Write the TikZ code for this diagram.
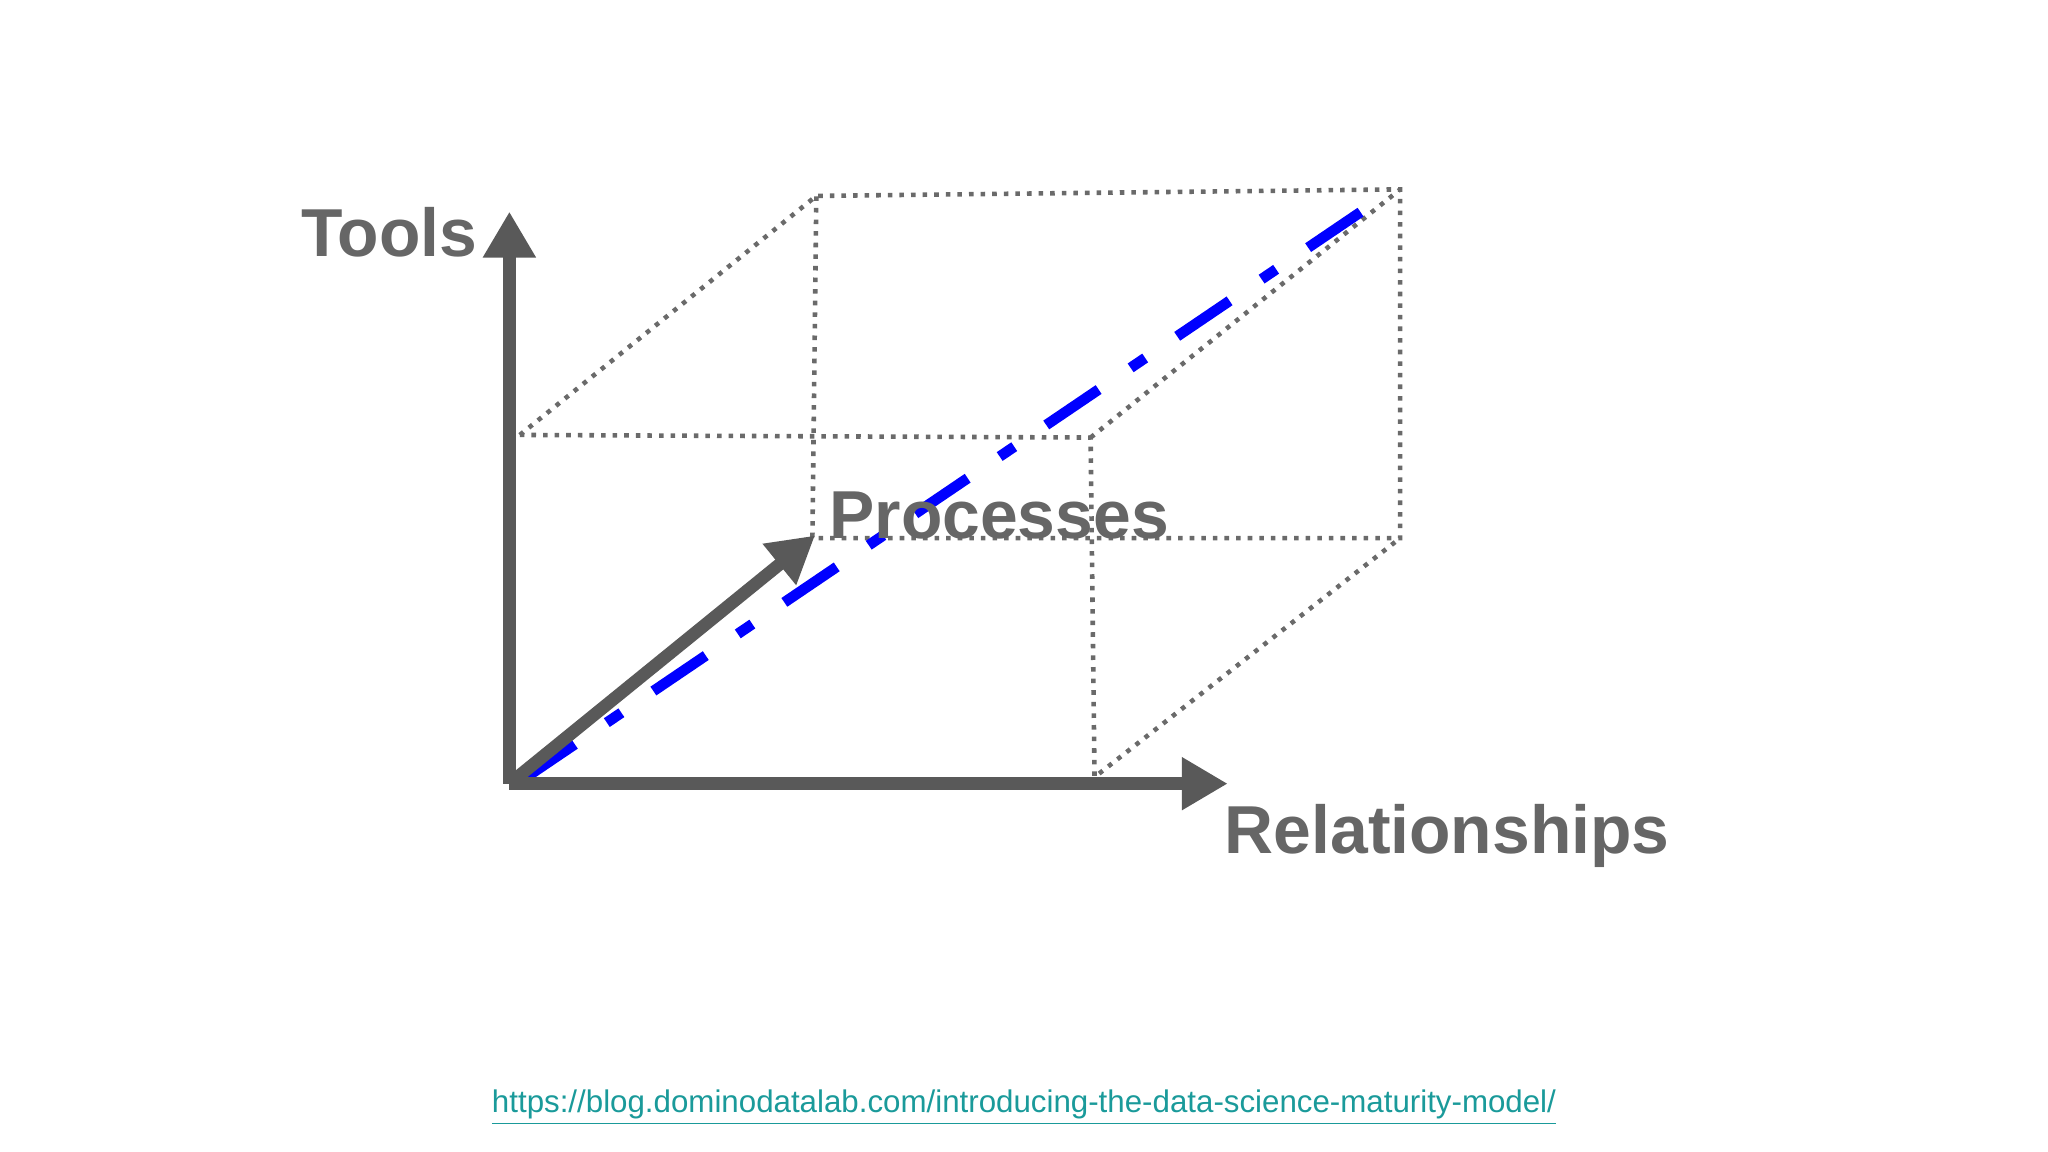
\documentclass[tikz,border=0pt]{standalone}
\usepackage{fontspec}
\setmainfont{Liberation Sans}
\usetikzlibrary{arrows.meta}
\definecolor{axg}{HTML}{595959}
\definecolor{txg}{HTML}{666666}
\definecolor{lnk}{HTML}{1A9A9A}
\begin{document}
\begin{tikzpicture}[x=0.01306cm,y=-0.01306cm,
  axis/.style={line width=3.6pt,color=axg,-{Triangle[length=0.46cm,width=0.5cm]}},
  dots/.style={dotted,line width=1.3pt,color=axg!90},
  lbl/.style={font=\fontsize{19.3}{23}\selectfont\bfseries,text=txg,inner sep=0pt}]
\useasboundingbox (0,0) rectangle (1568,882);
\coordinate (O) at (390,600);
\coordinate (ft) at (398,333);
\coordinate (ftr) at (835,335);
\coordinate (fbr) at (838,595);
\coordinate (btl) at (625,150);
\coordinate (btr) at (1072,145);
\coordinate (bbr) at (1072,412);
\coordinate (bbl) at (622,412);
\draw[dots] (ft) -- (btl) -- (btr) -- (bbr) -- (bbl) -- (btl);
\draw[dots] (ft) -- (ftr) -- (fbr) -- (bbr);
\draw[dots] (ftr) -- (btr);
\coordinate (tt) at (390,162);
\coordinate (rt) at (940,600);
\coordinate (pt) at (624,410);
\draw[line width=3pt,color=blue,dash pattern=on 18pt off 11pt on 5pt off 11pt] (400,597) -- (1060,150);
\draw[axis] (O) -- (tt);
\draw[axis] (O) -- (rt);
\draw[axis] (O) -- (pt);
\node[lbl] (tools) at (298,178) {Tools};
\node[lbl] (proc) at (765,395) {Processes};
\node[lbl] (rel) at (1108,640) {Relationships};
\node[inner sep=0pt,text=lnk,font=\fontsize{8.9}{11}\selectfont] (url) at (784,848) {\underline{https://blog.dominodatalab.com/introducing-the-data-science-maturity-model/}};
\end{tikzpicture}
\end{document}
